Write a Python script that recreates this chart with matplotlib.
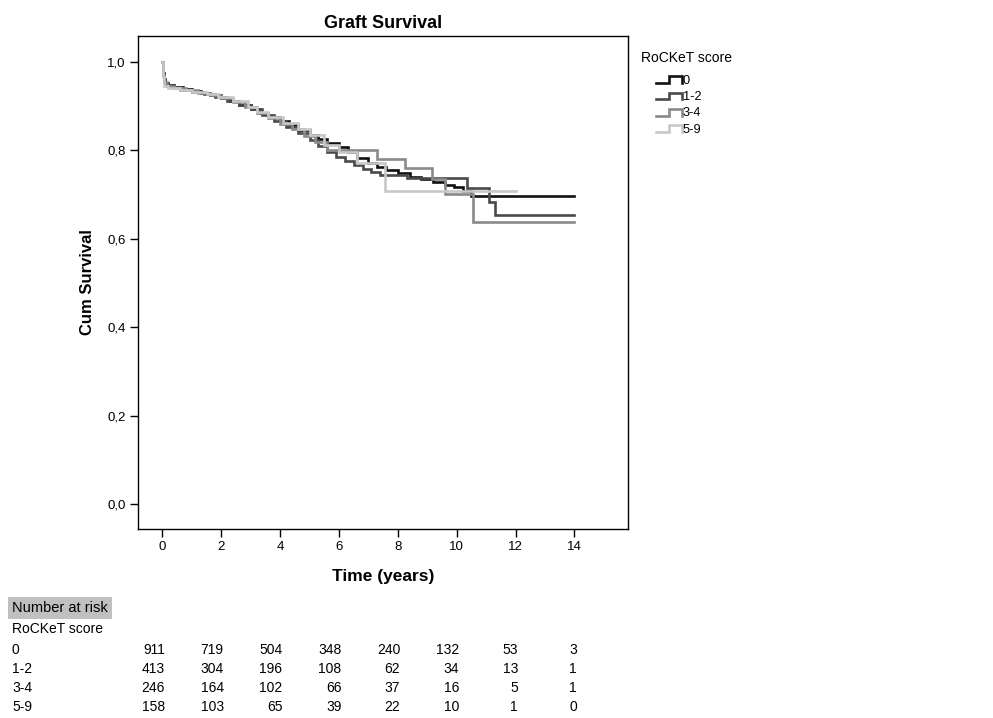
import matplotlib
matplotlib.use("Agg")
import matplotlib.pyplot as plt
from matplotlib.legend_handler import HandlerBase
from matplotlib.lines import Line2D
from matplotlib.ticker import FuncFormatter

plt.rcParams['font.family'] = ['Liberation Sans', 'DejaVu Sans']

# Kaplan-Meier steps (time in years, cumulative survival)
groups = ["0", "1-2", "3-4", "5-9"]

t_0 = [0, 0.02, 0.05, 0.1, 0.2, 0.4, 0.7, 1.0, 1.3, 1.6, 2.0, 2.3, 2.6, 3.0, 3.3, 3.6,
       4.0, 4.3, 4.6, 5.0, 5.3, 5.6, 6.0, 6.3, 6.6, 7.0, 7.3, 7.6, 8.0, 8.4, 8.8, 9.2,
       9.6, 9.9, 10.2, 10.5, 14.0]
s_0 = [1.0, 0.975, 0.96, 0.952, 0.947, 0.943, 0.938, 0.934, 0.929, 0.924, 0.918, 0.911,
       0.903, 0.893, 0.884, 0.876, 0.866, 0.856, 0.845, 0.834, 0.825, 0.817, 0.808, 0.795,
       0.782, 0.770, 0.762, 0.755, 0.748, 0.740, 0.734, 0.729, 0.722, 0.717, 0.708, 0.697,
       0.697]

t_12 = [0, 0.02, 0.05, 0.1, 0.3, 0.6, 1.0, 1.4, 1.8, 2.2, 2.6, 3.0, 3.4, 3.8, 4.2, 4.6,
        5.0, 5.3, 5.6, 5.9, 6.2, 6.5, 6.8, 7.1, 7.4, 8.3, 10.36, 11.08, 11.3, 14.0]
s_12 = [1.0, 0.97, 0.955, 0.948, 0.942, 0.937, 0.932, 0.926, 0.92, 0.912, 0.903, 0.892,
        0.88, 0.866, 0.852, 0.838, 0.822, 0.81, 0.795, 0.785, 0.775, 0.767, 0.758, 0.75,
        0.744, 0.736, 0.714, 0.683, 0.653, 0.653]

t_34 = [0, 0.02, 0.05, 0.15, 0.4, 0.8, 1.2, 1.6, 2.0, 2.4, 2.8, 3.2, 3.6, 4.0, 4.4, 4.8,
        5.2, 5.6, 7.28, 8.25, 9.15, 9.6, 10.57, 14.0]
s_34 = [1.0, 0.97, 0.955, 0.945, 0.94, 0.935, 0.93, 0.925, 0.918, 0.908, 0.898, 0.885,
        0.872, 0.86, 0.848, 0.832, 0.818, 0.80, 0.781, 0.759, 0.734, 0.700, 0.638, 0.638]

t_59 = [0, 0.02, 0.05, 0.2, 0.6, 1.0, 1.5, 1.9, 2.4, 2.9, 3.2, 3.6, 4.1, 4.6, 5.0, 5.5,
        6.0, 6.6, 7.57, 12.03]
s_59 = [1.0, 0.965, 0.945, 0.94, 0.935, 0.932, 0.928, 0.92, 0.91, 0.898, 0.887, 0.875,
        0.862, 0.848, 0.835, 0.812, 0.795, 0.770, 0.708, 0.708]

times = [t_0, t_12, t_34, t_59]
surv = [s_0, s_12, s_34, s_59]
colors = ["#111111", "#4a4a4a", "#8a8a8a", "#c8c8c8"]

# number at risk table
risk_times = [0, 2, 4, 6, 8, 10, 12, 14]
risk_0 = [911, 719, 504, 348, 240, 132, 53, 3]
risk_12 = [413, 304, 196, 108, 62, 34, 13, 1]
risk_34 = [246, 164, 102, 66, 37, 16, 5, 1]
risk_59 = [158, 103, 65, 39, 22, 10, 1, 0]
risk_rows = [risk_0, risk_12, risk_34, risk_59]


class StepHandler(HandlerBase):
    # little step-shaped glyph like SPSS legend
    def create_artists(self, legend, orig_handle, xdescent, ydescent, width, height,
                       fontsize, trans):
        x0, x1 = -xdescent, -xdescent + width
        ylo, yhi = -ydescent + 0.1 * height, -ydescent + 0.85 * height
        xm = x0 + 0.5 * width
        ln = Line2D([x0, xm, xm, x1, x1], [ylo, ylo, yhi, yhi, ylo],
                    color=orig_handle.get_color(), lw=orig_handle.get_linewidth(),
                    solid_joinstyle='miter', transform=trans)
        return [ln]


fig = plt.figure(figsize=(9.93, 7.18), dpi=100)
ax = fig.add_axes([138 / 993, 1 - 529 / 718, 490 / 993, 493 / 718])

handles = []
for i in range(len(groups)):
    h, = ax.step(times[i], surv[i], where='post', color=colors[i], lw=1.9,
                 solid_joinstyle='miter')
    handles.append(h)

ax.set_xlim(-0.83, 15.82)
ax.set_ylim(-0.0565, 1.058)
ax.set_xticks(risk_times)
ax.set_yticks([0, 0.2, 0.4, 0.6, 0.8, 1.0])
ax.yaxis.set_major_formatter(FuncFormatter(lambda v, p: ("%.1f" % v).replace(".", ",")))
ax.tick_params(direction='out', length=6, width=1, labelsize=9.5, pad=3)
for sp in ax.spines.values():
    sp.set_linewidth(1)

ax.set_title("Graft Survival", fontsize=13, fontweight='bold', pad=6)
ax.set_xlabel("Time (years)", fontsize=12.5, fontweight='bold', labelpad=11)
ax.set_ylabel("Cum Survival", fontsize=12, fontweight='bold', labelpad=9)

# legend: title as plain text, entries indented below
fig.text(641 / 993, 1 - 58 / 718, "RoCKeT score", fontsize=10, va='center')
leg = fig.legend(handles, groups, loc='upper left',
                 bbox_to_anchor=(656 / 993, 1 - 75 / 718), frameon=False,
                 fontsize=9.2, handler_map={Line2D: StepHandler()},
                 handlelength=2.0, handletextpad=0.1, labelspacing=0.33,
                 borderaxespad=0, borderpad=0)

# number at risk table below the chart
fig.text(12 / 993, 1 - 608 / 718, "Number at risk", fontsize=10.5, va='center',
         bbox=dict(facecolor='#c0c0c0', edgecolor='none', pad=3))
fig.text(12 / 993, 1 - 629 / 718, "RoCKeT score", fontsize=10, va='center')
blend = matplotlib.transforms.blended_transform_factory(ax.transData, fig.transFigure)
row_y = [650, 669, 688, 707]
for r in range(len(groups)):
    fig.text(12 / 993, 1 - row_y[r] / 718, groups[r], fontsize=10, va='center')
    for j in range(len(risk_times)):
        ax.text(risk_times[j] + 0.08, 1 - row_y[r] / 718, str(risk_rows[r][j]),
                fontsize=10, va='center', ha='right', transform=blend, clip_on=False)

fig.savefig("out.png", dpi=100)
